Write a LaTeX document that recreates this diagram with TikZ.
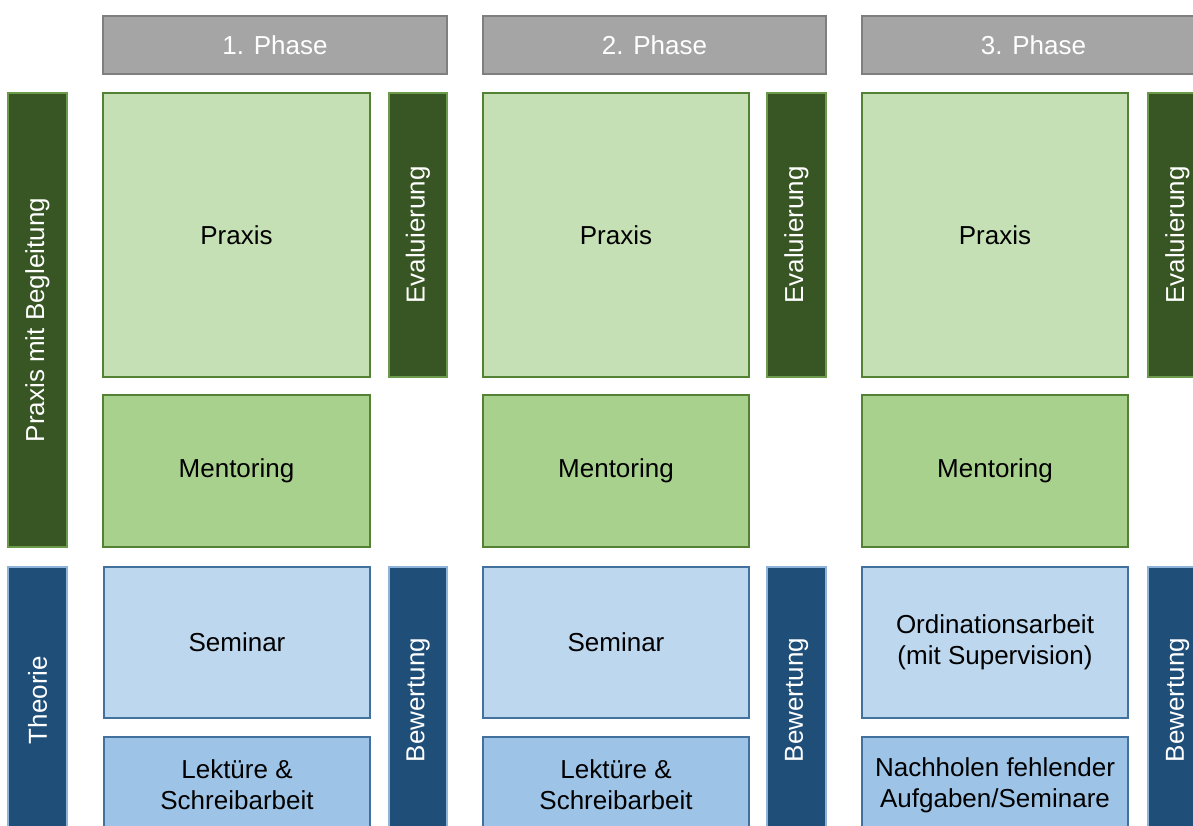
\documentclass[tikz,border=0pt]{standalone}
\usepackage{fontspec}
\setmainfont{Liberation Sans}
\definecolor{hdrfill}{HTML}{A5A5A5}
\definecolor{hdrline}{HTML}{7F7F7F}
\definecolor{dkgreen}{HTML}{375623}
\definecolor{dkgreenline}{HTML}{6A9A4A}
\definecolor{ltgreen}{HTML}{C5E0B4}
\definecolor{mdgreen}{HTML}{A9D18E}
\definecolor{greenline}{HTML}{548235}
\definecolor{dkblue}{HTML}{1F4E79}
\definecolor{dkblueline}{HTML}{8FB4D9}
\definecolor{ltblue}{HTML}{BDD7EE}
\definecolor{mdblue}{HTML}{9DC3E6}
\definecolor{blueline}{HTML}{41719C}
\tikzset{
  box/.style={rectangle, inner sep=0pt, outer sep=0pt, anchor=north west, align=center,
    font=\fontsize{26}{31}\selectfont},
  phasebox/.style={box, fill=hdrfill, draw=hdrline, line width=2pt, text=white},
  dkgbar/.style={box, fill=dkgreen, draw=dkgreenline, line width=1.5pt, text=white},
  dkbbar/.style={box, fill=dkblue, draw=dkblueline, line width=1.5pt, text=white},
  praxisbox/.style={box, fill=ltgreen, draw=greenline, line width=2pt},
  mentorbox/.style={box, fill=mdgreen, draw=greenline, line width=2pt},
  seminarbox/.style={box, fill=ltblue, draw=blueline, line width=2pt},
  lektuerebox/.style={box, fill=mdblue, draw=blueline, line width=2pt},
  vtext/.style={rotate=90, font=\fontsize{26}{31}\selectfont, text=white, inner sep=0pt}
}
\begin{document}
\begin{tikzpicture}[x=1pt,y=-1pt]
\clip (0,0) rectangle (1193,825);
\fill[white] (0,0) rectangle (1193,825);
% headers
\node[phasebox, minimum width=344pt, minimum height=58pt] (h1) at (103,16) {1. Phase};
\node[phasebox, minimum width=343pt, minimum height=58pt] (h2) at (483,16) {2. Phase};
\node[phasebox, minimum width=343pt, minimum height=58pt] (h3) at (862,16) {3. Phase};
% left bars
\node[dkgbar, minimum width=59pt, minimum height=454pt] (lp) at (8,93) {};
\node[vtext] (lpt) at (lp.center) {Praxis mit Begleitung};
\node[dkbbar, minimum width=59pt, minimum height=266pt] (lt) at (8,567) {};
\node[vtext] (ltt) at (lt.center) {Theorie};
% phase 1
\node[praxisbox, minimum width=267pt, minimum height=284pt] (p1) at (103,93) {Praxis};
\node[dkgbar, minimum width=58pt, minimum height=284pt] (e1) at (389,93) {};
\node[vtext] (e1t) at (e1.center) {Evaluierung};
\node[mentorbox, minimum width=267pt, minimum height=152pt] (m1) at (103,395) {Mentoring};
\node[seminarbox, minimum width=266pt, minimum height=151pt] (s1) at (104,567) {Seminar};
\node[lektuerebox, minimum width=266pt, minimum height=96pt] (l1) at (104,737) {Lektüre \&\\Schreibarbeit};
\node[dkbbar, minimum width=58pt, minimum height=266pt] (b1) at (389,567) {};
\node[vtext] (b1t) at (b1.center) {Bewertung};
% phase 2
\node[praxisbox, minimum width=266pt, minimum height=284pt] (p2) at (483,93) {Praxis};
\node[dkgbar, minimum width=59pt, minimum height=284pt] (e2) at (767,93) {};
\node[vtext] (e2t) at (e2.center) {Evaluierung};
\node[mentorbox, minimum width=266pt, minimum height=152pt] (m2) at (483,395) {Mentoring};
\node[seminarbox, minimum width=266pt, minimum height=151pt] (s2) at (483,567) {Seminar};
\node[lektuerebox, minimum width=266pt, minimum height=96pt] (l2) at (483,737) {Lektüre \&\\Schreibarbeit};
\node[dkbbar, minimum width=59pt, minimum height=266pt] (b2) at (767,567) {};
\node[vtext] (b2t) at (b2.center) {Bewertung};
% phase 3
\node[praxisbox, minimum width=266pt, minimum height=284pt] (p3) at (862,93) {Praxis};
\node[dkgbar, minimum width=59pt, minimum height=284pt] (e3) at (1148,93) {};
\node[vtext] (e3t) at (e3.center) {Evaluierung};
\node[mentorbox, minimum width=266pt, minimum height=152pt] (m3) at (862,395) {Mentoring};
\node[seminarbox, minimum width=266pt, minimum height=151pt] (s3) at (862,567) {Ordinationsarbeit\\(mit Supervision)};
\node[lektuerebox, minimum width=266pt, minimum height=96pt] (l3) at (862,737) {Nachholen fehlender\\Aufgaben/Seminare};
\node[dkbbar, minimum width=59pt, minimum height=266pt] (b3) at (1148,567) {};
\node[vtext] (b3t) at (b3.center) {Bewertung};
\end{tikzpicture}
\end{document}
